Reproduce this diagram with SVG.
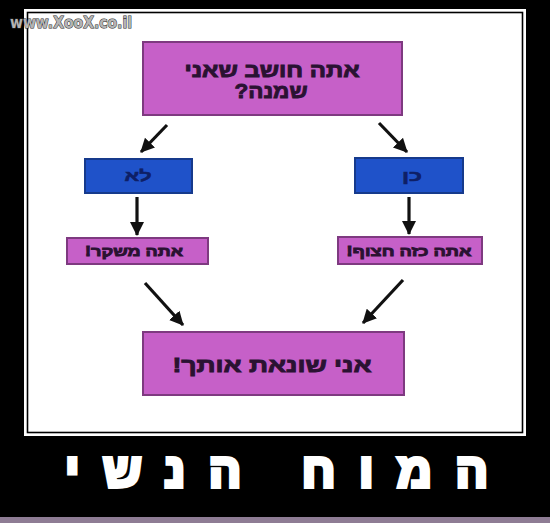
<svg xmlns="http://www.w3.org/2000/svg" width="550" height="523" viewBox="0 0 550 523">
<style>
.pink{fill:#c660c8;stroke:#7e3a80;stroke-width:2}
.blue{fill:#1f52c9;stroke:#163a8c;stroke-width:2}
.t{font-family:"Liberation Sans","DejaVu Sans",sans-serif;font-weight:900;text-anchor:middle;direction:rtl;unicode-bidi:embed;paint-order:stroke}
.dark{fill:#2a1232;stroke:#2a1232;stroke-width:0.9}
.navy{fill:#0e1f66;stroke:#0e1f66;stroke-width:0.6}
.arr{stroke:#111;stroke-width:3.2;fill:none;marker-end:url(#ah)}
</style>
<defs>
<marker id="ah" markerUnits="userSpaceOnUse" markerWidth="16" markerHeight="16" refX="13" refY="8" orient="auto">
<path d="M0,1 L14,8 L0,15 Z" fill="#111"/>
</marker>
</defs>
<rect x="0" y="0" width="550" height="523" fill="#000"/>
<rect x="24" y="9" width="502" height="427" fill="#fff"/>
<rect x="27.5" y="12.5" width="495" height="420" fill="#fff" stroke="#000" stroke-width="1.6"/>
<rect x="0" y="517" width="550" height="6" fill="#8e7c94"/>
<text x="71" y="28" font-family="DejaVu Sans, sans-serif" font-weight="bold" font-size="15" text-anchor="middle" fill="#b4b4b4" stroke="#2a2a2a" stroke-width="1" paint-order="stroke" textLength="122" lengthAdjust="spacingAndGlyphs">www.XooX.co.il</text>

<g id="connectors">
<line class="arr" x1="167" y1="125" x2="141" y2="152"/>
<line class="arr" x1="379" y1="123" x2="407" y2="152"/>
<line class="arr" x1="137" y1="197" x2="137" y2="235"/>
<line class="arr" x1="409" y1="197" x2="409" y2="234"/>
<line class="arr" x1="145" y1="283" x2="183" y2="325"/>
<line class="arr" x1="403" y1="280" x2="363" y2="323"/>
</g>

<g id="question">
<rect class="pink" x="143" y="42" width="259" height="73"/>
<text class="t dark" x="272" y="77" font-size="19" textLength="175" lengthAdjust="spacingAndGlyphs">אתה חושב שאני</text>
<text class="t dark" x="271" y="98" font-size="20" textLength="73" lengthAdjust="spacingAndGlyphs">שמנה?</text>
</g>
<g id="no">
<rect class="blue" x="85" y="159" width="107" height="34"/>
<text class="t navy" x="138" y="181" font-size="15" textLength="27" lengthAdjust="spacingAndGlyphs">לא</text>
</g>
<g id="yes">
<rect class="blue" x="355" y="158" width="108" height="35"/>
<text class="t navy" x="412" y="181" font-size="15" textLength="20" lengthAdjust="spacingAndGlyphs">כן</text>
</g>
<g id="liar">
<rect class="pink" x="67" y="238" width="141" height="26"/>
<text class="t dark" x="134" y="256" font-size="14" textLength="98" lengthAdjust="spacingAndGlyphs">אתה משקר!</text>
</g>
<g id="cheeky">
<rect class="pink" x="338" y="237" width="144" height="27"/>
<text class="t dark" x="409" y="256" font-size="14" textLength="125" lengthAdjust="spacingAndGlyphs">אתה כזה חצוף!</text>
</g>
<g id="hate">
<rect class="pink" x="143" y="332" width="261" height="63"/>
<text class="t dark" x="272" y="372" font-size="20" textLength="199" lengthAdjust="spacingAndGlyphs">אני שונאת אותך!</text>
</g>
<text class="t" x="276.5" y="487" font-size="48" fill="#fff" stroke="#fff" stroke-width="4" stroke-linejoin="miter" textLength="423" lengthAdjust="spacing">המוח הנשי</text>
</svg>
